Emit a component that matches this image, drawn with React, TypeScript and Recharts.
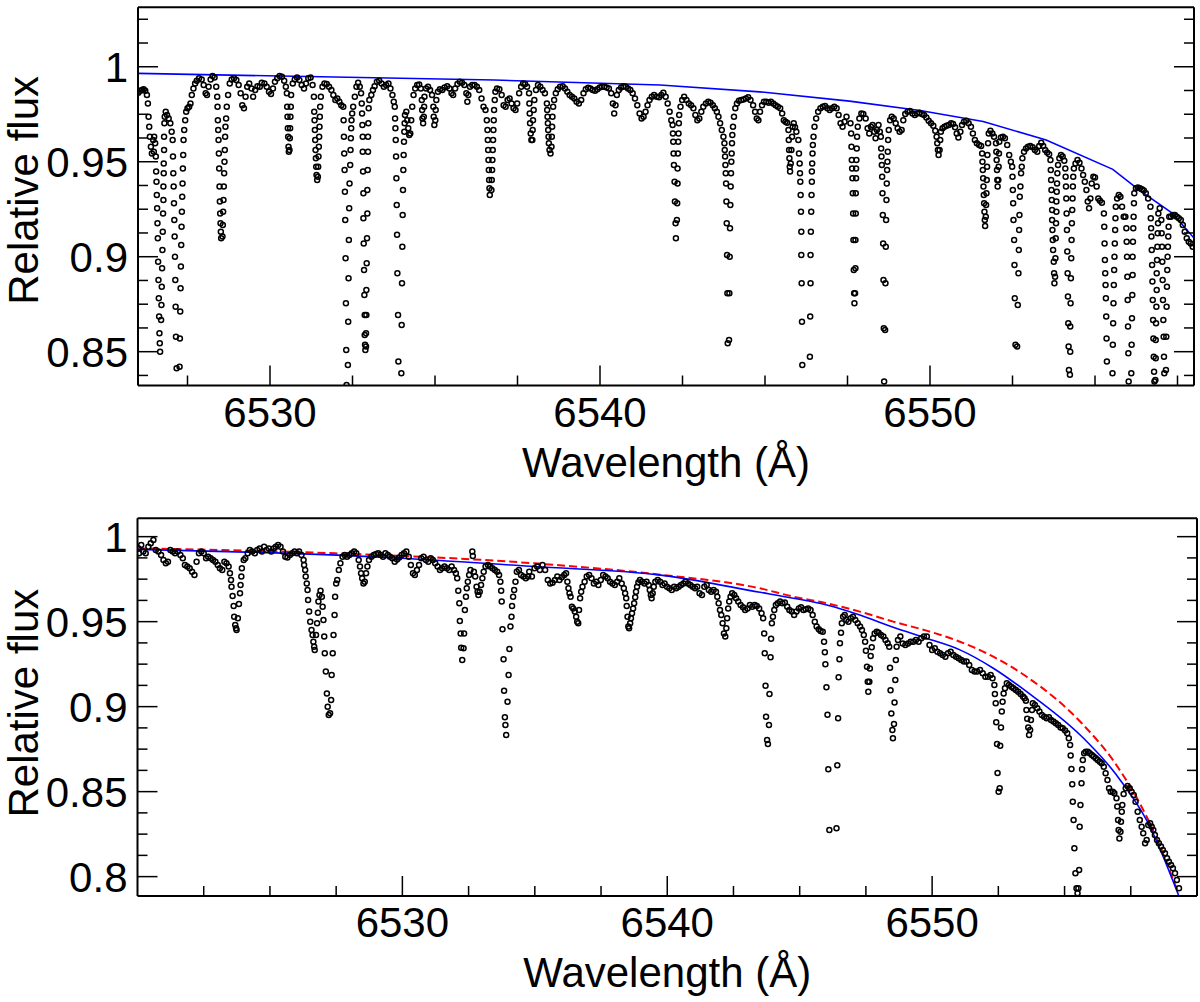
import { ComposedChart, Scatter, Line, XAxis, YAxis, Label } from 'recharts'

// observed spectrum, upper panel: [wavelength (A), relative flux]
const topSpec1: [number, number][] = [
  [6526.01, 0.9863], [6526.07, 0.9874], [6526.12, 0.9877], [6526.17, 0.9881], [6526.22, 0.9874], [6526.27, 0.9851],
  [6526.3, 0.9807], [6526.32, 0.9737], [6526.34, 0.9684], [6526.36, 0.9632], [6526.39, 0.9579], [6526.42, 0.9544],
  [6526.46, 0.9614], [6526.48, 0.9553], [6526.49, 0.9632], [6526.52, 0.9597],
  [6526.54, 0.9527], [6526.55, 0.9448], [6526.56, 0.9395], [6526.57, 0.9325], [6526.58, 0.9255], [6526.59, 0.9176],
  [6526.6, 0.9097], [6526.61, 0.8974], [6526.62, 0.8877], [6526.63, 0.8781], [6526.64, 0.8685], [6526.65, 0.8597],
  [6526.66, 0.8544], [6526.67, 0.85],
  [6526.7, 0.8667], [6526.71, 0.8746], [6526.72, 0.8842], [6526.73, 0.8939], [6526.74, 0.9035], [6526.75, 0.9132],
  [6526.76, 0.9228], [6526.77, 0.9299], [6526.77, 0.9369], [6526.78, 0.9439], [6526.78, 0.9491], [6526.79, 0.9562],
  [6526.79, 0.9632], [6526.8, 0.9702], [6526.81, 0.9737],
  [6526.84, 0.9763], [6526.88, 0.9746], [6526.93, 0.9728], [6526.98, 0.9702], [6527.02, 0.9658],
  [6527.05, 0.9614], [6527.06, 0.9527], [6527.07, 0.9439], [6527.08, 0.9369], [6527.09, 0.9281], [6527.1, 0.9193],
  [6527.11, 0.9106], [6527.12, 0.9], [6527.13, 0.8877], [6527.14, 0.8737], [6527.15, 0.8579], [6527.17, 0.8413],
  [6527.26, 0.8421], [6527.27, 0.857], [6527.28, 0.8711], [6527.29, 0.8834], [6527.3, 0.8948], [6527.31, 0.9062],
  [6527.32, 0.9158], [6527.33, 0.9237], [6527.34, 0.9316], [6527.35, 0.9386], [6527.36, 0.9465], [6527.37, 0.9535],
  [6527.38, 0.9614], [6527.4, 0.9667],
  [6527.43, 0.9719], [6527.46, 0.9763], [6527.5, 0.9781], [6527.55, 0.979], [6527.59, 0.9807], [6527.63, 0.9851],
  [6527.68, 0.9886], [6527.73, 0.9912], [6527.78, 0.9926], [6527.85, 0.9939], [6527.93, 0.9933], [6527.99, 0.9904],
  [6528.05, 0.986], [6528.09, 0.9851], [6528.14, 0.9895], [6528.2, 0.9933], [6528.26, 0.9951], [6528.32, 0.9944],
  [6528.37, 0.9895],
  [6528.4, 0.9842], [6528.41, 0.979], [6528.42, 0.9719], [6528.43, 0.9667], [6528.44, 0.9614], [6528.45, 0.9544],
  [6528.46, 0.9465], [6528.47, 0.9369], [6528.48, 0.929], [6528.49, 0.9228], [6528.5, 0.9176], [6528.51, 0.9132],
  [6528.52, 0.9097],
  [6528.56, 0.9106], [6528.57, 0.9167], [6528.58, 0.9237], [6528.59, 0.9299], [6528.6, 0.9369], [6528.61, 0.9439],
  [6528.62, 0.95], [6528.63, 0.9562], [6528.64, 0.9632], [6528.65, 0.9684], [6528.67, 0.9728], [6528.69, 0.979],
  [6528.73, 0.9851], [6528.78, 0.9912], [6528.84, 0.9933], [6528.91, 0.9939], [6528.98, 0.993], [6529.05, 0.9904],
  [6529.11, 0.986], [6529.16, 0.9798], [6529.21, 0.9781], [6529.26, 0.9842], [6529.31, 0.9895], [6529.37, 0.9912],
  [6529.44, 0.9886], [6529.49, 0.9842], [6529.55, 0.9877], [6529.62, 0.9898], [6529.69, 0.9895], [6529.75, 0.9916],
  [6529.83, 0.9912], [6529.9, 0.9895], [6529.97, 0.9868], [6530.03, 0.9856], [6530.09, 0.9886], [6530.15, 0.9921],
  [6530.22, 0.9939], [6530.29, 0.9951], [6530.36, 0.9947], [6530.43, 0.9926], [6530.48, 0.9895],
]

const topSpec2: [number, number][] = [
  [6530.51, 0.986], [6530.52, 0.979], [6530.53, 0.9737], [6530.54, 0.9676], [6530.55, 0.9632], [6530.56, 0.9579],
  [6530.57, 0.9553], [6530.59, 0.9562], [6530.6, 0.9623], [6530.61, 0.9676], [6530.62, 0.9737], [6530.63, 0.979],
  [6530.64, 0.9851], [6530.69, 0.9912], [6530.75, 0.9933], [6530.82, 0.9944], [6530.89, 0.993], [6530.96, 0.9904],
  [6531.03, 0.9886], [6531.09, 0.9912], [6531.16, 0.9939], [6531.23, 0.9944], [6531.29, 0.9904],
  [6531.33, 0.9842], [6531.34, 0.9763], [6531.35, 0.9719], [6531.36, 0.9667], [6531.37, 0.9614], [6531.38, 0.9562],
  [6531.39, 0.9518], [6531.4, 0.9474], [6531.41, 0.943], [6531.43, 0.9404], [6531.45, 0.9421], [6531.46, 0.9474],
  [6531.47, 0.9527], [6531.48, 0.9579], [6531.49, 0.9632], [6531.5, 0.9684], [6531.51, 0.9737], [6531.52, 0.979],
  [6531.54, 0.9842], [6531.59, 0.9895], [6531.65, 0.9912], [6531.72, 0.9909], [6531.79, 0.9895], [6531.86, 0.9877],
  [6531.92, 0.9851], [6531.98, 0.9825], [6532.04, 0.9833], [6532.1, 0.9816], [6532.16, 0.9798],
  [6532.22, 0.979], [6532.23, 0.9719], [6532.24, 0.9632], [6532.25, 0.9544], [6532.26, 0.9456], [6532.27, 0.9342],
  [6532.28, 0.9193], [6532.29, 0.8992], [6532.3, 0.8755], [6532.31, 0.8509], [6532.32, 0.8325],
  [6532.36, 0.843], [6532.37, 0.8658], [6532.38, 0.8886], [6532.39, 0.9088], [6532.4, 0.9255], [6532.41, 0.9386],
  [6532.43, 0.9483], [6532.44, 0.9562], [6532.45, 0.9623], [6532.46, 0.9676], [6532.47, 0.9719], [6532.49, 0.9754],
  [6532.52, 0.979], [6532.57, 0.9842], [6532.62, 0.9895], [6532.67, 0.9916], [6532.72, 0.9895], [6532.76, 0.986],
  [6532.78, 0.9807], [6532.79, 0.9754], [6532.8, 0.9693], [6532.81, 0.9632], [6532.81, 0.9553], [6532.82, 0.9448],
  [6532.83, 0.9334], [6532.83, 0.9202], [6532.84, 0.907], [6532.85, 0.893], [6532.86, 0.8799], [6532.87, 0.8693],
  [6532.87, 0.8588], [6532.88, 0.8536], [6532.89, 0.8509],
  [6532.91, 0.8527], [6532.91, 0.8597], [6532.92, 0.8693], [6532.92, 0.8825], [6532.93, 0.8965], [6532.94, 0.9097],
  [6532.95, 0.9228], [6532.95, 0.9351], [6532.96, 0.9456], [6532.97, 0.9553], [6532.97, 0.9632], [6532.98, 0.9702],
  [6532.99, 0.9781], [6533.01, 0.9825], [6533.07, 0.9851], [6533.12, 0.9877], [6533.17, 0.9898], [6533.24, 0.9921],
  [6533.31, 0.9926], [6533.38, 0.9912], [6533.45, 0.9895], [6533.52, 0.9904], [6533.59, 0.9912], [6533.65, 0.9886],
  [6533.71, 0.9851], [6533.75, 0.9816],
  [6533.78, 0.979], [6533.79, 0.9728], [6533.8, 0.9676], [6533.81, 0.9614], [6533.82, 0.9527], [6533.83, 0.9413],
  [6533.84, 0.9272], [6533.85, 0.9115], [6533.86, 0.8913], [6533.88, 0.8693], [6533.89, 0.8448],
  [6533.98, 0.8386], [6533.99, 0.8641], [6534.0, 0.886], [6534.01, 0.9053], [6534.02, 0.922], [6534.03, 0.9351],
  [6534.04, 0.9456], [6534.05, 0.9535], [6534.06, 0.9605], [6534.07, 0.9658], [6534.08, 0.9702], [6534.09, 0.9746],
  [6534.13, 0.9763], [6534.16, 0.9719], [6534.19, 0.9676], [6534.22, 0.9641], [6534.25, 0.9649], [6534.28, 0.9719],
  [6534.31, 0.979], [6534.35, 0.9851], [6534.4, 0.9886], [6534.46, 0.9904], [6534.52, 0.9907], [6534.57, 0.9886],
  [6534.6, 0.9825], [6534.61, 0.9772], [6534.62, 0.9728], [6534.64, 0.9702], [6534.66, 0.9737], [6534.67, 0.979],
  [6534.68, 0.9842], [6534.73, 0.9886], [6534.79, 0.9895], [6534.85, 0.9877], [6534.91, 0.9851],
  [6534.95, 0.979], [6534.96, 0.9737], [6534.98, 0.9693], [6535.01, 0.9719], [6535.02, 0.9772], [6535.04, 0.9825],
  [6535.09, 0.9868], [6535.15, 0.9881], [6535.22, 0.9877], [6535.29, 0.9891], [6535.37, 0.9898], [6535.44, 0.9886],
  [6535.5, 0.986], [6535.55, 0.9851], [6535.61, 0.9886], [6535.68, 0.9909], [6535.75, 0.9921], [6535.82, 0.9916],
  [6535.89, 0.9904], [6535.95, 0.986], [6535.98, 0.9816], [6536.01, 0.9851], [6536.06, 0.9895], [6536.13, 0.9904],
  [6536.2, 0.9904], [6536.27, 0.9895], [6536.34, 0.9877], [6536.41, 0.9833], [6536.47, 0.979], [6536.53, 0.9772],
  [6536.57, 0.9719], [6536.59, 0.9667], [6536.6, 0.9614], [6536.61, 0.9562], [6536.62, 0.9509], [6536.63, 0.9456],
  [6536.64, 0.9404], [6536.65, 0.936], [6536.66, 0.9325],
]

const topSpec3: [number, number][] = [
  [6536.71, 0.9351], [6536.72, 0.9404], [6536.73, 0.9456], [6536.74, 0.9509], [6536.75, 0.9562], [6536.76, 0.9614],
  [6536.77, 0.9667], [6536.78, 0.9719], [6536.79, 0.9772], [6536.81, 0.9825], [6536.83, 0.9868],
  [6536.88, 0.9886], [6536.95, 0.9881], [6537.02, 0.9851], [6537.08, 0.9798], [6537.14, 0.979], [6537.2, 0.9825],
  [6537.26, 0.9833], [6537.32, 0.9807], [6537.38, 0.9781], [6537.44, 0.9772], [6537.49, 0.9807], [6537.55, 0.986],
  [6537.61, 0.9895], [6537.67, 0.9912], [6537.73, 0.9909], [6537.79, 0.9895],
  [6537.85, 0.986], [6537.86, 0.9807], [6537.87, 0.9754], [6537.88, 0.9702], [6537.9, 0.9649], [6537.92, 0.9614],
  [6537.95, 0.9614], [6537.96, 0.9667], [6537.97, 0.9719], [6537.99, 0.9772], [6538.01, 0.9825],
  [6538.06, 0.9877], [6538.12, 0.9904], [6538.19, 0.9895], [6538.26, 0.9877], [6538.33, 0.986],
  [6538.39, 0.9807], [6538.4, 0.9772], [6538.41, 0.9737], [6538.42, 0.9702], [6538.43, 0.9667], [6538.44, 0.9632],
  [6538.45, 0.9597], [6538.47, 0.9562], [6538.5, 0.9544], [6538.53, 0.9579], [6538.54, 0.9632], [6538.55, 0.9684],
  [6538.56, 0.9737], [6538.58, 0.979], [6538.61, 0.9825],
  [6538.66, 0.986], [6538.72, 0.9881], [6538.79, 0.9895], [6538.87, 0.9898], [6538.94, 0.9886], [6539.01, 0.9868],
  [6539.08, 0.9851], [6539.15, 0.9842], [6539.22, 0.9833], [6539.29, 0.9816], [6539.36, 0.9807], [6539.43, 0.9825],
  [6539.5, 0.986], [6539.57, 0.9881], [6539.64, 0.989], [6539.71, 0.9886], [6539.78, 0.9877], [6539.85, 0.9874],
  [6539.92, 0.9881], [6539.99, 0.9891], [6540.06, 0.9895], [6540.13, 0.9895], [6540.2, 0.9891], [6540.27, 0.9886],
  [6540.34, 0.986], [6540.39, 0.9807], [6540.43, 0.9754], [6540.47, 0.9798], [6540.51, 0.9851], [6540.57, 0.9877],
  [6540.64, 0.9891], [6540.71, 0.9898], [6540.78, 0.9895], [6540.85, 0.9886], [6540.92, 0.9877], [6540.99, 0.986],
  [6541.06, 0.9833], [6541.13, 0.9798], [6541.2, 0.9754], [6541.26, 0.9728], [6541.32, 0.9737], [6541.38, 0.9763],
  [6541.44, 0.9798], [6541.5, 0.9825], [6541.57, 0.9842], [6541.64, 0.9851], [6541.72, 0.9842], [6541.79, 0.9839],
  [6541.86, 0.9851], [6541.92, 0.9863], [6541.99, 0.9842], [6542.05, 0.9807], [6542.11, 0.9763], [6542.16, 0.9719],
  [6542.2, 0.9693], [6542.21, 0.9649], [6542.22, 0.9605], [6542.23, 0.9544], [6542.24, 0.9483], [6542.26, 0.9395],
  [6542.27, 0.929], [6542.29, 0.9176], [6542.3, 0.9097],
  [6542.33, 0.9193], [6542.34, 0.9281], [6542.35, 0.9386], [6542.35, 0.9465], [6542.36, 0.9544], [6542.37, 0.9605],
  [6542.38, 0.9649], [6542.39, 0.9702], [6542.4, 0.9746],
  [6542.44, 0.979], [6542.49, 0.9825], [6542.55, 0.9842], [6542.62, 0.9825], [6542.69, 0.9807], [6542.76, 0.9798],
  [6542.83, 0.9781], [6542.89, 0.9746], [6542.95, 0.9719], [6543.01, 0.9728], [6543.07, 0.9763], [6543.13, 0.979],
  [6543.21, 0.9807], [6543.28, 0.9816], [6543.35, 0.9811], [6543.42, 0.9798], [6543.48, 0.9781], [6543.54, 0.9763],
  [6543.59, 0.9737], [6543.64, 0.9702], [6543.69, 0.9667], [6543.74, 0.9632],
  [6543.77, 0.9597], [6543.78, 0.9562], [6543.79, 0.9527], [6543.8, 0.9483], [6543.81, 0.9439], [6543.82, 0.9386],
  [6543.83, 0.929], [6543.84, 0.9176], [6543.85, 0.9009], [6543.86, 0.8807], [6543.87, 0.8544],
  [6543.91, 0.8562], [6543.92, 0.8807], [6543.93, 0.9], [6543.94, 0.915], [6543.95, 0.9272], [6543.96, 0.9369],
  [6543.97, 0.9439], [6543.98, 0.95], [6543.99, 0.9544], [6544.0, 0.9597], [6544.01, 0.9641], [6544.03, 0.9684],
  [6544.06, 0.9737], [6544.1, 0.9781], [6544.15, 0.9807], [6544.21, 0.9821], [6544.28, 0.9825], [6544.35, 0.9828],
  [6544.42, 0.9833], [6544.49, 0.9839], [6544.56, 0.9825], [6544.64, 0.9798], [6544.7, 0.9763], [6544.75, 0.9728],
  [6544.8, 0.9719], [6544.85, 0.9763], [6544.91, 0.9798], [6544.97, 0.9816], [6545.04, 0.9816], [6545.11, 0.9811],
  [6545.18, 0.9816], [6545.25, 0.9807], [6545.32, 0.9798], [6545.39, 0.979], [6545.46, 0.9781], [6545.52, 0.9754],
  [6545.57, 0.9719], [6545.62, 0.9711], [6545.67, 0.9705],
  [6545.71, 0.9667], [6545.72, 0.9614], [6545.73, 0.9562], [6545.74, 0.9518], [6545.75, 0.9474], [6545.76, 0.9448],
  [6545.78, 0.9491], [6545.8, 0.9562], [6545.82, 0.9632], [6545.84, 0.9684], [6545.87, 0.9702], [6545.91, 0.9681],
  [6545.95, 0.9658],
  [6546.01, 0.9614], [6546.03, 0.9544], [6546.05, 0.9491], [6546.06, 0.9439], [6546.07, 0.9395], [6546.08, 0.9325],
  [6546.09, 0.9237], [6546.1, 0.9132], [6546.1, 0.9009], [6546.11, 0.886], [6546.12, 0.8658], [6546.13, 0.843],
  [6546.36, 0.8474], [6546.37, 0.8685], [6546.38, 0.886], [6546.38, 0.9009], [6546.39, 0.9132], [6546.4, 0.9237],
  [6546.41, 0.9325], [6546.42, 0.9395], [6546.42, 0.9448], [6546.43, 0.9491], [6546.44, 0.9544], [6546.45, 0.9588],
  [6546.47, 0.9632],
  [6546.5, 0.9684], [6546.55, 0.9728], [6546.61, 0.9763], [6546.68, 0.9781], [6546.75, 0.979], [6546.82, 0.9793],
  [6546.89, 0.9781], [6546.96, 0.9772], [6547.03, 0.9781], [6547.1, 0.979], [6547.17, 0.9781], [6547.23, 0.9746],
  [6547.29, 0.9702], [6547.35, 0.9684], [6547.41, 0.9711], [6547.47, 0.9737],
]

const topSpec4: [number, number][] = [
  [6547.59, 0.9702], [6547.61, 0.9649], [6547.62, 0.9579], [6547.63, 0.9509], [6547.64, 0.9465], [6547.65, 0.9413],
  [6547.66, 0.9334], [6547.67, 0.9228], [6547.68, 0.9088], [6547.69, 0.893], [6547.7, 0.8807], [6547.71, 0.8755],
  [6547.73, 0.8807], [6547.74, 0.8939], [6547.74, 0.9088], [6547.75, 0.9228], [6547.75, 0.9334], [6547.76, 0.9413],
  [6547.76, 0.9465], [6547.77, 0.9509], [6547.78, 0.957], [6547.79, 0.9632], [6547.81, 0.9684],
  [6547.86, 0.9728], [6547.92, 0.9754], [6547.98, 0.9751], [6548.05, 0.9728], [6548.11, 0.9676], [6548.16, 0.9649],
  [6548.21, 0.9684], [6548.26, 0.9693], [6548.31, 0.9658], [6548.35, 0.9623], [6548.39, 0.9667], [6548.44, 0.9693],
  [6548.48, 0.9658],
  [6548.51, 0.9632], [6548.52, 0.957], [6548.53, 0.9527], [6548.54, 0.9483], [6548.55, 0.9421], [6548.56, 0.9334],
  [6548.57, 0.922], [6548.58, 0.907], [6548.59, 0.8877], [6548.6, 0.8623], [6548.61, 0.8343],
  [6548.64, 0.8614], [6548.65, 0.886], [6548.66, 0.9053], [6548.67, 0.9193], [6548.68, 0.9299], [6548.69, 0.9386],
  [6548.7, 0.9456], [6548.71, 0.95], [6548.72, 0.9553], [6548.73, 0.9614], [6548.75, 0.9667],
  [6548.79, 0.9719], [6548.84, 0.9737], [6548.9, 0.9728], [6548.96, 0.9702], [6549.02, 0.9676], [6549.08, 0.9658],
  [6549.14, 0.9667], [6549.19, 0.9719], [6549.25, 0.9751], [6549.32, 0.9763], [6549.39, 0.9767], [6549.47, 0.9754],
  [6549.54, 0.9746], [6549.61, 0.9754], [6549.68, 0.9758], [6549.75, 0.9751], [6549.82, 0.9746], [6549.89, 0.9733],
  [6549.96, 0.9716], [6550.03, 0.9702], [6550.1, 0.9689], [6550.16, 0.9663],
  [6550.2, 0.9632], [6550.22, 0.9597], [6550.24, 0.9562], [6550.26, 0.9535], [6550.29, 0.9562], [6550.31, 0.9614],
  [6550.33, 0.9658], [6550.38, 0.9676], [6550.44, 0.9684], [6550.5, 0.9689], [6550.57, 0.9693], [6550.64, 0.9702],
  [6550.7, 0.9698], [6550.76, 0.9681], [6550.81, 0.9649], [6550.86, 0.9628], [6550.92, 0.9658], [6550.97, 0.9693],
  [6551.03, 0.9711], [6551.1, 0.9716], [6551.17, 0.9702], [6551.24, 0.9684], [6551.3, 0.9649], [6551.36, 0.9614],
  [6551.42, 0.9597], [6551.49, 0.9588], [6551.55, 0.9583],
  [6551.58, 0.9544], [6551.59, 0.95], [6551.6, 0.9456], [6551.61, 0.9413], [6551.62, 0.9369], [6551.63, 0.9325],
  [6551.64, 0.9281], [6551.65, 0.9237], [6551.66, 0.9193], [6551.67, 0.9162],
  [6551.69, 0.9211], [6551.7, 0.9272], [6551.71, 0.9334], [6551.72, 0.9404], [6551.73, 0.9474], [6551.74, 0.9535],
  [6551.76, 0.9597], [6551.78, 0.9649], [6551.83, 0.9663], [6551.89, 0.9649], [6551.94, 0.9632],
  [6552.0, 0.9597], [6552.01, 0.9553], [6552.02, 0.9509], [6552.03, 0.9456], [6552.04, 0.9404], [6552.05, 0.9369],
  [6552.07, 0.9404], [6552.08, 0.9474], [6552.09, 0.9544], [6552.1, 0.9605], [6552.15, 0.9628], [6552.21, 0.9632],
  [6552.27, 0.9623], [6552.34, 0.9588], [6552.4, 0.9535], [6552.45, 0.95],
  [6552.49, 0.9474], [6552.5, 0.9421], [6552.51, 0.9351], [6552.52, 0.9281], [6552.53, 0.9193], [6552.55, 0.9088],
  [6552.56, 0.8957], [6552.57, 0.8781], [6552.59, 0.8536],
  [6552.64, 0.8527], [6552.66, 0.8746], [6552.68, 0.8913], [6552.69, 0.9035], [6552.7, 0.9141], [6552.71, 0.922],
  [6552.72, 0.9316], [6552.74, 0.9369], [6552.76, 0.9439], [6552.78, 0.9474], [6552.8, 0.9518],
  [6552.85, 0.9553], [6552.91, 0.957], [6552.97, 0.9579], [6553.04, 0.9583], [6553.11, 0.9576], [6553.18, 0.9562],
  [6553.25, 0.9553], [6553.31, 0.9583], [6553.37, 0.96], [6553.43, 0.9583], [6553.49, 0.9562], [6553.55, 0.9548],
  [6553.61, 0.954],
  [6553.65, 0.9509], [6553.66, 0.9456], [6553.67, 0.9404], [6553.68, 0.9351], [6553.69, 0.9299], [6553.7, 0.9246],
  [6553.7, 0.9193], [6553.71, 0.9141], [6553.72, 0.9088], [6553.73, 0.9035], [6553.75, 0.8974], [6553.76, 0.8913],
  [6553.77, 0.886],
  [6553.79, 0.8895], [6553.8, 0.8992], [6553.81, 0.9097], [6553.82, 0.9176], [6553.83, 0.9237], [6553.83, 0.929],
  [6553.84, 0.9342], [6553.85, 0.9386], [6553.86, 0.9439], [6553.88, 0.9483], [6553.92, 0.9518], [6553.97, 0.9535],
  [6554.02, 0.9527], [6554.07, 0.9505],
  [6554.1, 0.9465], [6554.11, 0.9421], [6554.12, 0.9369], [6554.13, 0.9307], [6554.14, 0.9228], [6554.15, 0.9141],
  [6554.16, 0.9027], [6554.17, 0.8913], [6554.18, 0.879], [6554.19, 0.865], [6554.2, 0.8527], [6554.21, 0.8404],
  [6554.24, 0.8378], [6554.25, 0.85], [6554.25, 0.8632], [6554.26, 0.8755], [6554.27, 0.8886], [6554.28, 0.8992],
  [6554.29, 0.9088], [6554.3, 0.9176], [6554.31, 0.9246], [6554.32, 0.9307], [6554.33, 0.9369], [6554.34, 0.9421],
  [6554.36, 0.9465], [6554.41, 0.9491], [6554.47, 0.9509], [6554.53, 0.9495], [6554.59, 0.9465], [6554.64, 0.943],
  [6554.69, 0.9395], [6554.74, 0.9351], [6554.78, 0.929], [6554.82, 0.9255], [6554.86, 0.9307], [6554.9, 0.9386],
  [6554.95, 0.9421], [6555.0, 0.9417], [6555.05, 0.9369], [6555.1, 0.9307], [6555.15, 0.9294], [6555.21, 0.9284],
  [6555.27, 0.9228], [6555.28, 0.9158], [6555.29, 0.907], [6555.3, 0.8983], [6555.31, 0.8913], [6555.32, 0.8851],
  [6555.33, 0.8781], [6555.34, 0.8685], [6555.35, 0.857], [6555.36, 0.8448],
  [6555.53, 0.8386], [6555.54, 0.8536], [6555.55, 0.865], [6555.56, 0.8755], [6555.57, 0.8851], [6555.58, 0.893],
  [6555.59, 0.9], [6555.6, 0.907], [6555.61, 0.9141], [6555.62, 0.9202], [6555.63, 0.9263],
  [6555.67, 0.9307], [6555.72, 0.9325], [6555.77, 0.9316], [6555.82, 0.9263], [6555.87, 0.9211], [6555.92, 0.9211],
  [6555.95, 0.915], [6555.96, 0.9079], [6555.97, 0.9], [6555.98, 0.8895], [6555.99, 0.8772], [6556.0, 0.8632],
  [6556.01, 0.8492], [6556.02, 0.8343],
  [6556.1, 0.8386], [6556.11, 0.8536], [6556.12, 0.8676], [6556.13, 0.8799], [6556.14, 0.8904], [6556.14, 0.9],
  [6556.15, 0.9079], [6556.16, 0.915], [6556.17, 0.9211], [6556.18, 0.9281], [6556.19, 0.9334],
  [6556.24, 0.936], [6556.3, 0.9365], [6556.36, 0.936], [6556.42, 0.9355], [6556.48, 0.9348], [6556.54, 0.9334],
  [6556.61, 0.9307],
  [6556.68, 0.9263], [6556.69, 0.9202], [6556.7, 0.915], [6556.71, 0.9106], [6556.72, 0.9035], [6556.73, 0.8957],
  [6556.74, 0.8869], [6556.75, 0.8772], [6556.76, 0.8667], [6556.77, 0.857], [6556.78, 0.8474], [6556.79, 0.8395],
  [6556.8, 0.8343],
  [6556.83, 0.8351], [6556.84, 0.8465], [6556.84, 0.8562], [6556.85, 0.865], [6556.86, 0.8737], [6556.87, 0.8825],
  [6556.87, 0.8913], [6556.88, 0.8983], [6556.89, 0.9053], [6556.9, 0.9123], [6556.91, 0.9176], [6556.92, 0.9228],
  [6556.96, 0.9255],
  [6557.01, 0.9193], [6557.02, 0.9123], [6557.03, 0.9053], [6557.04, 0.8974], [6557.05, 0.8877], [6557.06, 0.8772],
  [6557.07, 0.8667], [6557.08, 0.8579], [6557.09, 0.8474], [6557.1, 0.8386],
  [6557.15, 0.8404], [6557.16, 0.8579], [6557.17, 0.8737], [6557.18, 0.8842], [6557.19, 0.893], [6557.2, 0.9],
  [6557.21, 0.9053], [6557.22, 0.9106], [6557.23, 0.9158], [6557.25, 0.9211],
  [6557.3, 0.9211], [6557.36, 0.922], [6557.42, 0.922], [6557.48, 0.9211], [6557.54, 0.9202], [6557.6, 0.9193],
  [6557.66, 0.9167], [6557.72, 0.9132], [6557.78, 0.9097], [6557.84, 0.9079], [6557.9, 0.907], [6557.96, 0.9053],
]

// adopted continuum, upper panel
const topContinuum: [number, number][] = [
  [6526.0, 0.9965], [6536.8, 0.993], [6541.82, 0.9904], [6544.84, 0.9868], [6547.56, 0.9819], [6549.7, 0.977],
  [6551.61, 0.9712], [6553.52, 0.9614], [6555.54, 0.946], [6556.34, 0.9351], [6557.35, 0.9228], [6558.0, 0.9098],
]

// observed spectrum, lower panel
const bottomSpec1: [number, number][] = [
  [6520.04, 0.9931], [6520.06, 0.9902], [6520.14, 0.9951], [6520.22, 0.9912], [6520.31, 0.9902], [6520.41, 0.9941],
  [6520.5, 0.9961], [6520.6, 0.998], [6520.69, 0.9922], [6520.79, 0.9912], [6520.89, 0.9892], [6520.98, 0.9863],
  [6521.07, 0.9843], [6521.15, 0.9853], [6521.24, 0.9922], [6521.33, 0.9912], [6521.42, 0.9902], [6521.52, 0.9912],
  [6521.62, 0.9892], [6521.71, 0.9873], [6521.79, 0.9833], [6521.88, 0.9824], [6521.97, 0.9814], [6522.06, 0.9794],
  [6522.15, 0.9775], [6522.23, 0.9853], [6522.32, 0.9902], [6522.41, 0.9912], [6522.5, 0.9902], [6522.59, 0.9873],
  [6522.67, 0.9882], [6522.76, 0.9873], [6522.85, 0.9863], [6522.94, 0.9853], [6523.03, 0.9833], [6523.11, 0.9814],
  [6523.2, 0.9804], [6523.28, 0.9853], [6523.36, 0.9843], [6523.44, 0.9824],
  [6523.49, 0.9784], [6523.53, 0.9745], [6523.55, 0.9706], [6523.59, 0.9651], [6523.63, 0.9592], [6523.65, 0.9529],
  [6523.69, 0.948], [6523.72, 0.9461], [6523.74, 0.9451], [6523.79, 0.952], [6523.83, 0.9604], [6523.87, 0.9667],
  [6523.89, 0.9716], [6523.92, 0.9765], [6523.94, 0.9814],
  [6524.01, 0.9863], [6524.07, 0.9873], [6524.16, 0.9902], [6524.24, 0.9922], [6524.33, 0.9912], [6524.43, 0.9902],
  [6524.52, 0.9922], [6524.61, 0.9931], [6524.7, 0.9912], [6524.78, 0.9941], [6524.87, 0.9922], [6524.96, 0.9931],
  [6525.05, 0.9912], [6525.14, 0.9931], [6525.22, 0.9941], [6525.31, 0.9951], [6525.4, 0.9941], [6525.49, 0.9912],
  [6525.58, 0.9882], [6525.66, 0.9878], [6525.75, 0.9892], [6525.84, 0.9902], [6525.93, 0.9912], [6526.02, 0.9902],
  [6526.1, 0.9912], [6526.19, 0.9892], [6526.27, 0.9863],
  [6526.29, 0.9833], [6526.33, 0.9804], [6526.35, 0.9765], [6526.39, 0.9725], [6526.42, 0.9686], [6526.44, 0.9627],
  [6526.48, 0.9559], [6526.52, 0.95], [6526.57, 0.9451], [6526.61, 0.9422], [6526.64, 0.9382], [6526.67, 0.9353],
  [6526.69, 0.9333], [6526.74, 0.9422], [6526.78, 0.949], [6526.81, 0.9553], [6526.83, 0.9618], [6526.87, 0.9657],
  [6526.91, 0.9682], [6526.96, 0.9647], [6526.99, 0.9588], [6527.02, 0.951], [6527.05, 0.9412], [6527.07, 0.9314],
  [6527.11, 0.9206], [6527.15, 0.9078], [6527.18, 0.8999], [6527.22, 0.8951], [6527.27, 0.8961], [6527.31, 0.9039],
  [6527.33, 0.9186], [6527.37, 0.9314], [6527.4, 0.9422], [6527.44, 0.9539], [6527.46, 0.9647], [6527.5, 0.9725],
  [6527.54, 0.9745],
  [6527.6, 0.9804], [6527.66, 0.9843], [6527.74, 0.9882], [6527.82, 0.9892], [6527.91, 0.9882], [6528.0, 0.9892],
  [6528.09, 0.9902], [6528.18, 0.9912], [6528.26, 0.9902], [6528.35, 0.9863], [6528.4, 0.9824], [6528.44, 0.9784],
  [6528.48, 0.9755], [6528.53, 0.9725], [6528.58, 0.9735], [6528.63, 0.9784], [6528.68, 0.9824], [6528.74, 0.9863],
  [6528.83, 0.9882], [6528.92, 0.9892], [6529.01, 0.9898], [6529.09, 0.9902], [6529.18, 0.9892], [6529.27, 0.9882],
  [6529.36, 0.9902], [6529.45, 0.9892], [6529.53, 0.9882], [6529.62, 0.9873], [6529.71, 0.9853], [6529.8, 0.9866],
  [6529.88, 0.9878], [6529.97, 0.9892], [6530.06, 0.9902], [6530.15, 0.9912], [6530.24, 0.9882], [6530.32, 0.9833],
  [6530.4, 0.9784], [6530.47, 0.9775], [6530.55, 0.9804], [6530.63, 0.9833], [6530.71, 0.9873], [6530.8, 0.9882],
  [6530.89, 0.9863], [6530.98, 0.9853], [6531.07, 0.9873], [6531.15, 0.9863], [6531.24, 0.9843], [6531.33, 0.9824],
  [6531.42, 0.9804], [6531.5, 0.9814], [6531.59, 0.9824], [6531.68, 0.9814], [6531.77, 0.9804], [6531.86, 0.9824],
  [6531.95, 0.9804], [6532.02, 0.9784],
  [6532.07, 0.9755], [6532.11, 0.9682], [6532.15, 0.9608], [6532.17, 0.9504], [6532.2, 0.9431], [6532.22, 0.9347],
  [6532.26, 0.9275], [6532.31, 0.9343], [6532.33, 0.9431], [6532.36, 0.9569], [6532.4, 0.9647], [6532.43, 0.9696],
  [6532.47, 0.9735], [6532.52, 0.9775], [6532.57, 0.9804], [6532.64, 0.9912], [6532.66, 0.9886], [6532.7, 0.9794],
  [6532.75, 0.9765], [6532.8, 0.9706], [6532.84, 0.9676], [6532.87, 0.9657], [6532.92, 0.9676], [6532.97, 0.9716],
  [6533.02, 0.9755], [6533.07, 0.9794], [6533.14, 0.9824], [6533.23, 0.9833], [6533.31, 0.9824], [6533.4, 0.9814],
  [6533.49, 0.9804], [6533.58, 0.9794], [6533.65, 0.9775],
  [6533.7, 0.9735], [6533.73, 0.9682], [6533.75, 0.9618], [6533.78, 0.9455], [6533.82, 0.9279], [6533.84, 0.9094],
  [6533.87, 0.8937], [6533.89, 0.8892], [6533.92, 0.8833], [6533.97, 0.9029], [6534.01, 0.9186], [6534.04, 0.9339],
  [6534.08, 0.9471], [6534.12, 0.9529], [6534.14, 0.9592], [6534.18, 0.9647], [6534.22, 0.9686], [6534.27, 0.9735],
  [6534.32, 0.9794], [6534.4, 0.9804], [6534.48, 0.9775], [6534.57, 0.9765], [6534.66, 0.9755], [6534.75, 0.9765],
]

const bottomSpec2: [number, number][] = [
  [6534.79, 0.9794], [6534.89, 0.9765], [6534.99, 0.9814], [6535.09, 0.9824], [6535.19, 0.9804], [6535.29, 0.9833],
  [6535.39, 0.9804], [6535.49, 0.9745], [6535.58, 0.9725], [6535.67, 0.9729], [6535.76, 0.9745], [6535.85, 0.9765],
  [6535.93, 0.9745], [6536.02, 0.9761], [6536.11, 0.9775], [6536.18, 0.9784],
  [6536.23, 0.9735], [6536.27, 0.9696], [6536.31, 0.9667], [6536.35, 0.9647], [6536.4, 0.9588], [6536.45, 0.9578],
  [6536.51, 0.9559], [6536.56, 0.9529], [6536.6, 0.95], [6536.64, 0.949], [6536.67, 0.9569], [6536.71, 0.9637],
  [6536.75, 0.9676], [6536.8, 0.9706], [6536.88, 0.9735], [6536.96, 0.9765], [6537.05, 0.9775], [6537.14, 0.9755],
  [6537.23, 0.9725], [6537.32, 0.9735], [6537.4, 0.9716], [6537.49, 0.9745], [6537.58, 0.9775], [6537.67, 0.9765],
  [6537.75, 0.9755], [6537.84, 0.9735], [6537.93, 0.9725], [6538.02, 0.9716], [6538.11, 0.9735], [6538.19, 0.9755],
  [6538.28, 0.9725], [6538.36, 0.9696], [6538.41, 0.9667],
  [6538.45, 0.9637], [6538.47, 0.9592], [6538.5, 0.9529], [6538.53, 0.9471], [6538.56, 0.9461], [6538.6, 0.949],
  [6538.63, 0.952], [6538.67, 0.9549], [6538.71, 0.9578], [6538.75, 0.9608], [6538.79, 0.9643], [6538.82, 0.9676],
  [6538.86, 0.9706], [6538.91, 0.9731], [6538.97, 0.9745], [6539.05, 0.9735], [6539.14, 0.9725], [6539.22, 0.9735],
  [6539.3, 0.9716], [6539.34, 0.9686], [6539.38, 0.9657], [6539.41, 0.9637], [6539.45, 0.9667], [6539.49, 0.9706],
  [6539.55, 0.9735], [6539.64, 0.9745], [6539.73, 0.9735], [6539.82, 0.9716], [6539.9, 0.9725], [6539.99, 0.9706],
  [6540.08, 0.9696], [6540.17, 0.9686], [6540.26, 0.9706], [6540.34, 0.9696], [6540.43, 0.9706], [6540.52, 0.9716],
  [6540.61, 0.9725], [6540.69, 0.9735], [6540.78, 0.9725], [6540.87, 0.9716], [6540.96, 0.9706], [6541.05, 0.9696],
  [6541.13, 0.9706], [6541.22, 0.9667], [6541.31, 0.9657], [6541.4, 0.9706], [6541.49, 0.9716], [6541.57, 0.9686],
  [6541.66, 0.9676], [6541.75, 0.9686], [6541.84, 0.9676],
  [6541.89, 0.9647], [6541.94, 0.9608], [6541.99, 0.9569], [6542.04, 0.9539], [6542.09, 0.949], [6542.14, 0.9431],
  [6542.19, 0.9412], [6542.23, 0.9461], [6542.26, 0.952], [6542.3, 0.9578], [6542.34, 0.9618], [6542.39, 0.9647],
  [6542.45, 0.9667], [6542.53, 0.9657], [6542.6, 0.9637], [6542.68, 0.9618], [6542.77, 0.9598], [6542.86, 0.9584],
  [6542.94, 0.9569], [6543.03, 0.9578], [6543.12, 0.9598], [6543.21, 0.9588], [6543.3, 0.9598], [6543.38, 0.9592],
  [6543.47, 0.9578], [6543.56, 0.9549], [6543.62, 0.952],
  [6543.66, 0.9431], [6543.68, 0.9314], [6543.71, 0.9123], [6543.73, 0.8941], [6543.77, 0.8804], [6543.8, 0.878],
  [6543.84, 0.8892], [6543.86, 0.9074], [6543.9, 0.929], [6543.92, 0.94], [6543.95, 0.949],
  [6543.99, 0.9529], [6544.04, 0.9569], [6544.1, 0.9598], [6544.17, 0.9608], [6544.26, 0.9618], [6544.35, 0.9608],
  [6544.44, 0.9612], [6544.53, 0.9588], [6544.61, 0.9569], [6544.7, 0.9559], [6544.79, 0.9539], [6544.88, 0.9559],
  [6544.97, 0.9578], [6545.05, 0.9584], [6545.14, 0.9569], [6545.23, 0.9573], [6545.32, 0.9578], [6545.41, 0.9569],
  [6545.49, 0.9539], [6545.57, 0.95], [6545.64, 0.9471], [6545.72, 0.9455], [6545.79, 0.9445], [6545.87, 0.9441],
  [6545.92, 0.9382], [6545.95, 0.932], [6545.97, 0.9249], [6546.01, 0.9114], [6546.05, 0.8953], [6546.08, 0.8631],
  [6546.12, 0.8274], [6546.39, 0.8284], [6546.42, 0.8655], [6546.45, 0.8931], [6546.47, 0.9173], [6546.5, 0.9279],
  [6546.52, 0.9373], [6546.56, 0.9435], [6546.59, 0.949],
  [6546.64, 0.9529], [6546.7, 0.9539], [6546.76, 0.951], [6546.84, 0.95], [6546.93, 0.952], [6547.01, 0.9529],
  [6547.1, 0.951], [6547.19, 0.949], [6547.28, 0.9471], [6547.35, 0.9451], [6547.42, 0.9422],
  [6547.47, 0.9382], [6547.5, 0.9329], [6547.54, 0.9235], [6547.57, 0.9147], [6547.59, 0.9088], [6547.63, 0.9147],
  [6547.65, 0.9225], [6547.68, 0.9298], [6547.72, 0.9349], [6547.77, 0.9402], [6547.83, 0.9431], [6547.91, 0.9441],
  [6547.98, 0.9435], [6548.07, 0.9422], [6548.16, 0.9412], [6548.24, 0.9392], [6548.32, 0.9373],
  [6548.38, 0.9353], [6548.41, 0.9229], [6548.43, 0.9096], [6548.46, 0.8959], [6548.5, 0.8863], [6548.52, 0.8814],
  [6548.56, 0.8898], [6548.58, 0.9025], [6548.61, 0.9157], [6548.63, 0.9275], [6548.66, 0.9353], [6548.71, 0.9392],
]

const bottomSpec3: [number, number][] = [
  [6548.8, 0.9412], [6548.89, 0.9372], [6548.99, 0.9363], [6549.09, 0.9372], [6549.19, 0.9382], [6549.29, 0.9382],
  [6549.39, 0.9392], [6549.49, 0.9382], [6549.59, 0.9402], [6549.69, 0.9412], [6549.8, 0.9412], [6549.9, 0.9363],
  [6550.0, 0.9333], [6550.1, 0.9343], [6550.2, 0.9323], [6550.3, 0.9314], [6550.4, 0.9304], [6550.5, 0.9294],
  [6550.6, 0.9314], [6550.7, 0.9323], [6550.8, 0.9304], [6550.9, 0.9294], [6551.0, 0.9284], [6551.1, 0.9274],
  [6551.2, 0.9265], [6551.3, 0.9265], [6551.4, 0.9245], [6551.5, 0.9216], [6551.6, 0.9206], [6551.7, 0.9206],
  [6551.81, 0.9216], [6551.91, 0.9196], [6552.01, 0.9176], [6552.11, 0.9176], [6552.21, 0.9186], [6552.28, 0.9167],
  [6552.35, 0.9127], [6552.37, 0.9074], [6552.4, 0.902], [6552.42, 0.8908], [6552.45, 0.878], [6552.47, 0.861],
  [6552.51, 0.85], [6552.55, 0.852], [6552.57, 0.877], [6552.6, 0.8878], [6552.63, 0.8971], [6552.66, 0.9029],
  [6552.7, 0.9078], [6552.75, 0.9108], [6552.82, 0.9137], [6552.9, 0.9127], [6552.99, 0.9117], [6553.07, 0.9108],
  [6553.16, 0.9098], [6553.25, 0.9088], [6553.34, 0.9074], [6553.43, 0.9059], [6553.49, 0.9049],
  [6553.54, 0.9035], [6553.56, 0.898], [6553.59, 0.8929], [6553.63, 0.8877], [6553.66, 0.8833], [6553.7, 0.8863],
  [6553.73, 0.8922], [6553.77, 0.898], [6553.8, 0.902], [6553.88, 0.901], [6553.97, 0.899], [6554.05, 0.8971],
  [6554.14, 0.8951], [6554.23, 0.8941], [6554.32, 0.8931], [6554.41, 0.8937], [6554.49, 0.8922], [6554.58, 0.8912],
  [6554.67, 0.8902], [6554.76, 0.8892], [6554.85, 0.8878], [6554.93, 0.8873], [6555.02, 0.8859], [6555.1, 0.8843],
  [6555.16, 0.8814], [6555.21, 0.8774],
  [6555.23, 0.8712], [6555.26, 0.8633], [6555.29, 0.8543], [6555.31, 0.8441], [6555.34, 0.8333], [6555.37, 0.8167],
  [6555.41, 0.802], [6555.45, 0.7931], [6555.49, 0.7902], [6555.52, 0.7931], [6555.55, 0.8039], [6555.57, 0.8294],
  [6555.6, 0.8422], [6555.64, 0.8549], [6555.66, 0.8631], [6555.69, 0.8686],
  [6555.74, 0.8726], [6555.8, 0.8735], [6555.88, 0.8735], [6555.95, 0.8726], [6556.03, 0.8716], [6556.1, 0.8706],
  [6556.18, 0.8696], [6556.25, 0.8686], [6556.33, 0.8676], [6556.4, 0.8667], [6556.48, 0.8647], [6556.55, 0.8608],
  [6556.62, 0.8569], [6556.68, 0.852], [6556.74, 0.85], [6556.82, 0.85], [6556.88, 0.849],
  [6556.96, 0.8461], [6556.99, 0.8412], [6557.02, 0.8333], [6557.04, 0.8274], [6557.07, 0.8225], [6557.11, 0.8264],
  [6557.13, 0.8323], [6557.16, 0.8382], [6557.18, 0.8422],
  [6557.23, 0.8486], [6557.31, 0.852], [6557.38, 0.8533], [6557.46, 0.852], [6557.53, 0.85], [6557.61, 0.848],
  [6557.68, 0.8441], [6557.76, 0.8382], [6557.84, 0.8333], [6557.91, 0.8294], [6557.97, 0.8255], [6558.04, 0.8196],
  [6558.1, 0.8216], [6558.16, 0.8304], [6558.23, 0.8314], [6558.29, 0.8294], [6558.35, 0.8274], [6558.41, 0.8245],
  [6558.49, 0.8216], [6558.56, 0.8196], [6558.64, 0.8177], [6558.71, 0.8157], [6558.79, 0.8137], [6558.87, 0.8108],
  [6558.94, 0.8088], [6559.02, 0.8069], [6559.09, 0.8049], [6559.17, 0.802], [6559.24, 0.798], [6559.32, 0.7931],
]

// model fits, lower panel
const bottomFitBlue: [number, number][] = [
  [6520.0, 0.9925], [6524.94, 0.9906], [6529.96, 0.9873], [6534.99, 0.9824], [6539.82, 0.9772], [6543.5, 0.9673],
  [6544.76, 0.9638], [6546.02, 0.9598], [6547.27, 0.9539], [6548.53, 0.9467], [6549.79, 0.9402], [6551.05, 0.9334],
  [6552.31, 0.9226], [6553.57, 0.9088], [6555.65, 0.8824], [6556.91, 0.8608], [6558.16, 0.8314], [6559.3, 0.7892],
]
const bottomFitRed: [number, number][] = [
  [6520.0, 0.9931], [6527.45, 0.9902], [6534.99, 0.9843], [6539.82, 0.9775], [6543.5, 0.9696], [6544.76, 0.9647],
  [6546.02, 0.9608], [6547.27, 0.9559], [6548.53, 0.95], [6549.79, 0.9447], [6551.05, 0.9382], [6552.31, 0.9294],
  [6553.57, 0.9176], [6555.65, 0.8902], [6556.91, 0.8667], [6558.16, 0.8333], [6559.3, 0.7902],
]

// axes
const topWaveTicks = [6527.5, 6530, 6532.5, 6535, 6537.5, 6540, 6542.5, 6545, 6547.5, 6550, 6552.5, 6555, 6557.5]
const bottomWaveTicks = [
  6522.5, 6525, 6527.5, 6530, 6532.5, 6535, 6537.5, 6540, 6542.5, 6545, 6547.5, 6550, 6552.5, 6555, 6557.5,
]
const waveLabels = [6530, 6540, 6550]
const topFluxTicks = [
  0.8375, 0.85, 0.8625, 0.875, 0.8875, 0.9, 0.9125, 0.925, 0.9375, 0.95, 0.9625, 0.975, 0.9875, 1, 1.0125, 1.025,
]
const bottomFluxTicks = [
  0.8, 0.8125, 0.825, 0.8375, 0.85, 0.8625, 0.875, 0.8875, 0.9, 0.9125, 0.925, 0.9375, 0.95, 0.9625, 0.975, 0.9875, 1,
]
const topFluxLabels = [0.85, 0.9, 0.95, 1]
const bottomFluxLabels = [0.8, 0.85, 0.9, 0.95, 1]

const FONT = "'Liberation Sans', Arial, Helvetica, sans-serif"
const AXIS = { stroke: '#000', strokeWidth: 2 }

const toPoints = (...parts: [number, number][][]) =>
  parts.flat().map(([wl, flux]) => ({ wl, flux }))
const isMajor = (v: number, majors: number[]) => majors.some((m) => Math.abs(m - v) < 1e-6)

const Ring = (p: any) => <circle cx={p.cx} cy={p.cy} r={2.5} fill="none" stroke="#000" strokeWidth={1.5} />

const BottomTick = ({ x, y, payload, majors }: any) => {
  const major = isMajor(payload.value, majors)
  return (
    <g>
      <line x1={x} y1={y} x2={x} y2={y - (major ? 20 : 10)} stroke="#000" strokeWidth={1.5} />
      {major && (
        <text x={x} y={y + 41} textAnchor="middle" fontSize={42} fontFamily={FONT} fill="#000">
          {payload.value}
        </text>
      )}
    </g>
  )
}

const TopTick = ({ x, y, payload, majors }: any) => (
  <line x1={x} y1={y} x2={x} y2={y + (isMajor(payload.value, majors) ? 20 : 10)} stroke="#000" strokeWidth={1.5} />
)

const LeftTick = ({ x, y, payload, majors }: any) => {
  const major = isMajor(payload.value, majors)
  return (
    <g>
      <line x1={x} y1={y} x2={x + (major ? 20 : 10)} y2={y} stroke="#000" strokeWidth={1.5} />
      {major && (
        <text x={x - 10} y={y + 15} textAnchor="end" fontSize={42} fontFamily={FONT} fill="#000">
          {String(payload.value)}
        </text>
      )}
    </g>
  )
}

const RightTick = ({ x, y, payload, majors }: any) => (
  <line x1={x} y1={y} x2={x - (isMajor(payload.value, majors) ? 20 : 10)} y2={y} stroke="#000" strokeWidth={1.5} />
)

interface FitLine {
  name: string
  data: { wl: number; flux: number }[]
  color: string
  width: number
  curve: 'linear' | 'monotone'
  dash?: string
}

interface PanelProps {
  height: number
  plot: { left: number; right: number; top: number; bottom: number }
  spectrum: { wl: number; flux: number }[]
  fits: FitLine[]
  xDomain: [number, number]
  yDomain: [number, number]
  xTicks: number[]
  yTicks: number[]
  yLabels: number[]
  yTitleShift: number
}

const WIDTH = 1200
const AXIS_SIZE = 1 // axes with zero size are skipped by recharts

const SpectrumPanel = ({
  height, plot, spectrum, fits, xDomain, yDomain, xTicks, yTicks, yLabels, yTitleShift,
}: PanelProps) => {
  const margin = {
    top: plot.top - AXIS_SIZE,
    right: WIDTH - plot.right - AXIS_SIZE,
    bottom: height - plot.bottom - AXIS_SIZE,
    left: plot.left - AXIS_SIZE,
  }
  const midY = (plot.top + plot.bottom) / 2 + yTitleShift
  return (
    <ComposedChart width={WIDTH} height={height} margin={margin}>
      <XAxis
        xAxisId="b" dataKey="wl" type="number" domain={xDomain} allowDataOverflow ticks={xTicks} interval={0}
        height={AXIS_SIZE} tickSize={0} tickMargin={0} tickLine={false} axisLine={AXIS}
        tick={(p: any) => <BottomTick {...p} majors={waveLabels} />}
      >
        <Label
          content={() => (
            <text x={(plot.left + plot.right) / 2} y={plot.bottom + 91} textAnchor="middle" fontSize={42} fontFamily={FONT} fill="#000">
              Wavelength (Å)
            </text>
          )}
        />
      </XAxis>
      <XAxis
        xAxisId="t" orientation="top" type="number" domain={xDomain} allowDataOverflow ticks={xTicks} interval={0}
        height={AXIS_SIZE} tickSize={0} tickMargin={0} tickLine={false} axisLine={AXIS}
        tick={(p: any) => <TopTick {...p} majors={waveLabels} />}
      />
      <YAxis
        yAxisId="l" dataKey="flux" type="number" domain={yDomain} allowDataOverflow ticks={yTicks} interval={0}
        width={AXIS_SIZE} tickSize={0} tickMargin={0} tickLine={false} axisLine={AXIS}
        tick={(p: any) => <LeftTick {...p} majors={yLabels} />}
      >
        <Label
          content={() => (
            <text
              x={38} y={midY} transform={`rotate(-90 38 ${midY})`} textAnchor="middle"
              fontSize={42} fontFamily={FONT} fill="#000"
            >
              Relative flux
            </text>
          )}
        />
      </YAxis>
      <YAxis
        yAxisId="r" orientation="right" type="number" domain={yDomain} allowDataOverflow ticks={yTicks} interval={0}
        width={AXIS_SIZE} tickSize={0} tickMargin={0} tickLine={false} axisLine={AXIS}
        tick={(p: any) => <RightTick {...p} majors={yLabels} />}
      />
      <Scatter
        xAxisId="b" yAxisId="l" data={spectrum} dataKey="flux" shape={Ring} isAnimationActive={false}
      />
      {fits.map((f) => (
        <Line
          key={f.name} xAxisId="b" yAxisId="l" data={f.data} dataKey="flux" type={f.curve}
          stroke={f.color} strokeWidth={f.width} strokeDasharray={f.dash} dot={false} activeDot={false}
          isAnimationActive={false}
        />
      ))}
    </ComposedChart>
  )
}

export default function App() {
  return (
    <div style={{ position: 'absolute', left: 0, top: 0, width: 1200, height: 1002, background: '#fff' }}>
      <div style={{ position: 'absolute', left: 0, top: 0 }}>
        <SpectrumPanel
          height={500}
          plot={{ left: 138, right: 1194, top: 7.3, bottom: 385.5 }}
          spectrum={toPoints(topSpec1, topSpec2, topSpec3, topSpec4)}
          fits={[
            { name: 'continuum', data: toPoints(topContinuum), color: '#0000ff', width: 1.6, curve: 'linear' },
          ]}
          xDomain={[6526, 6558]}
          yDomain={[0.8322, 1.0313]}
          xTicks={topWaveTicks}
          yTicks={topFluxTicks}
          yLabels={topFluxLabels}
          yTitleShift={-6}
        />
      </div>
      <div style={{ position: 'absolute', left: 0, top: 500 }}>
        <SpectrumPanel
          height={502}
          plot={{ left: 137.5, right: 1197, top: 18.3, bottom: 396 }}
          spectrum={toPoints(bottomSpec1, bottomSpec2, bottomSpec3)}
          fits={[
            { name: 'model-red', data: toPoints(bottomFitRed), color: '#ff0000', width: 2, curve: 'monotone', dash: '8 4' },
            { name: 'model-blue', data: toPoints(bottomFitBlue), color: '#0000ff', width: 1.6, curve: 'monotone' },
          ]}
          xDomain={[6520, 6560]}
          yDomain={[0.7886, 1.0108]}
          xTicks={bottomWaveTicks}
          yTicks={bottomFluxTicks}
          yLabels={bottomFluxLabels}
          yTitleShift={-4}
        />
      </div>
    </div>
  )
}
